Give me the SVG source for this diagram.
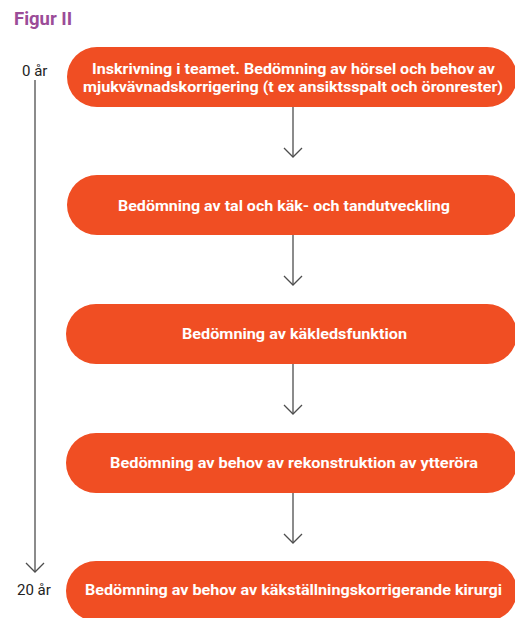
<svg xmlns="http://www.w3.org/2000/svg" width="515" height="618" viewBox="0 0 515 618">
<style>
.box{fill:#F04E23}
.bt{font-family:Roboto,"Liberation Sans",sans-serif;font-weight:700;font-size:15.5px;fill:#ffffff;text-anchor:middle}
.lbl{font-family:Roboto,"Liberation Sans",sans-serif;font-size:15px;fill:#222222}
.ln{stroke:#4d4d4d;stroke-width:1.3;fill:none}
.title{font-family:Roboto,"Liberation Sans",sans-serif;font-weight:700;font-size:18.5px;fill:#9B4C98}
</style>
<rect width="515" height="618" fill="#ffffff"/>
<text class="title" x="14" y="25">Figur II</text>
<g id="timeline">
<text class="lbl" x="22" y="76">0 år</text>
<line class="ln" x1="35" y1="80" x2="35" y2="572"/>
<polyline class="ln" points="26,563 35,572 44,563"/>
<text class="lbl" x="17" y="595">20 år</text>
</g>
<g id="connectors">
<line class="ln" x1="293" y1="107" x2="293" y2="157"/><polyline class="ln" points="284,148 293,157 302,148"/>
<line class="ln" x1="293" y1="235" x2="293" y2="285"/><polyline class="ln" points="284,276 293,285 302,276"/>
<line class="ln" x1="293" y1="364" x2="293" y2="414"/><polyline class="ln" points="284,405 293,414 302,405"/>
<line class="ln" x1="293" y1="493" x2="293" y2="543"/><polyline class="ln" points="284,534 293,543 302,534"/>
</g>
<g id="n1">
<rect class="box" x="67" y="47" width="450" height="60" rx="30"/>
<text class="bt" x="293.5" y="74" textLength="403" lengthAdjust="spacingAndGlyphs">Inskrivning i teamet. Bedömning av hörsel och behov av</text>
<text class="bt" x="293" y="92" textLength="420" lengthAdjust="spacingAndGlyphs">mjukvävnadskorrigering (t ex ansiktsspalt och öronrester)</text>
</g>
<g id="n2">
<rect class="box" x="67" y="175" width="450" height="60" rx="30"/>
<text class="bt" x="284" y="211" textLength="332" lengthAdjust="spacingAndGlyphs">Bedömning av tal och käk- och tandutveckling</text>
</g>
<g id="n3">
<rect class="box" x="66" y="304" width="451" height="60" rx="30"/>
<text class="bt" x="294.5" y="339" textLength="225" lengthAdjust="spacingAndGlyphs">Bedömning av käkledsfunktion</text>
</g>
<g id="n4">
<rect class="box" x="66" y="433" width="451" height="60" rx="30"/>
<text class="bt" x="294" y="468" textLength="368" lengthAdjust="spacingAndGlyphs">Bedömning av behov av rekonstruktion av ytteröra</text>
</g>
<g id="n5">
<rect class="box" x="66" y="561" width="451" height="60" rx="30"/>
<text class="bt" x="293.5" y="595" textLength="417" lengthAdjust="spacingAndGlyphs">Bedömning av behov av käkställningskorrigerande kirurgi</text>
</g>
</svg>
